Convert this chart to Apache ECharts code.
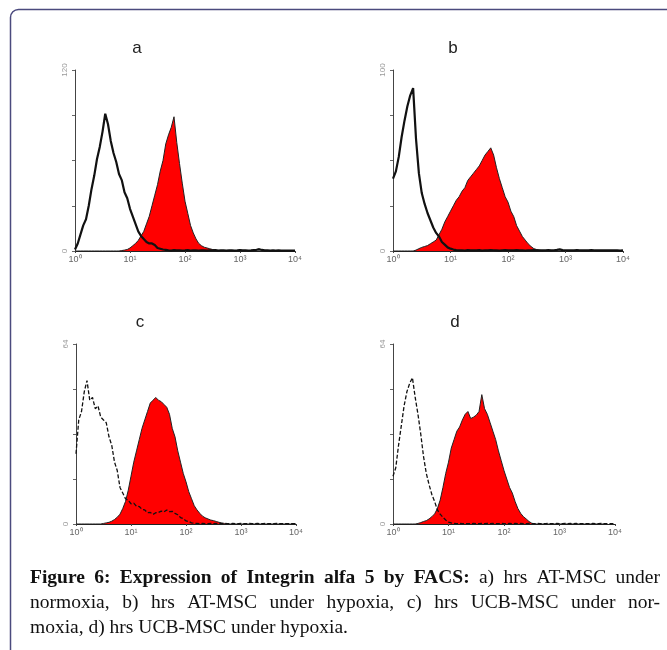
<!DOCTYPE html>
<html>
<head>
<meta charset="utf-8">
<script src="https://cdn.jsdelivr.net/npm/echarts@6/dist/echarts.min.js"></script>
<style>
html,body{margin:0;padding:0;background:#fff;}
#chart{width:667px;height:650px;}
</style>
</head>
<body>
<div id="chart"></div>
<script>
// channel positions in decades (log10 of fluorescence)
const bins = [0,0.05,0.1,0.15,0.2,0.25,0.3,0.35,0.4,0.45,0.5,0.55,0.6,0.65,0.7,0.75,0.8,0.85,0.9,0.95,
1,1.05,1.1,1.15,1.2,1.25,1.3,1.35,1.4,1.45,1.5,1.55,1.6,1.65,1.7,1.75,1.8,1.85,1.9,1.95,
2,2.05,2.1,2.15,2.2,2.25,2.3,2.35,2.4,2.45,2.5,2.55,2.6,2.65,2.7,2.75,2.8,2.85,2.9,2.95,
3,3.05,3.1,3.15,3.2,3.25,3.3,3.35,3.4,3.45,3.5,3.55,3.6,3.65,3.7,3.75,3.8,3.85,3.9,3.95,4];
const xTickLabels = ['10\u2070','10\u00b9','10\u00b2','10\u00b3','10\u2074'];
const panelNames = ['a','b','c','d'];
const yMax = [120,100,64,64];

const aControl = [1,5,11,17,21,30,41,50,61,69,79,91,84,73,65,59,51,47,39,35,28,23,18,13,10,8,6,5,5,4,2,1.5,1,0.8,
0.5,0.3,0.6,0.4,0.5,0.3,0.4,0.6,0.3,0.5,0.4,0.3,0.5,0.4,0.3,0.5,0.4,0.6,0.3,0.4,
0.5,0.3,0.4,0.5,0.3,0.4,0.6,0.4,0.5,0.3,0.4,0.6,0.8,1.2,0.7,0.4,0.5,0.3,0.4,0.3,
0.4,0.3,0.3,0.2,0.3,0.2,0.2];
const aIntegrin = [0,0,0,0,0,0,0,0,0,0,0,0,0,0,0,0,0,
0.3,0.6,1,2,3.5,5,7,10,13,18,23,30,37,44,53,60,71,77,82,89,72,58,45,33,25,17,12,8,5,3.5,2.5,2,1.5,1,0.7,0.4,0.2,
0,0,0,0,0,0,0,0,0,0,0,0,0,0,0,0,0,0,0,0,0,0,0,0,0,0,0];

const bControl = [40,44,52,63,72,80,86,90,62,43,32,26,21,17,13,10,8,5,3.5,2,1.3,0.8,0.5,
0.3,0.4,0.2,0.5,0.3,0.4,0.3,0.5,0.2,0.4,0.3,0.5,0.4,0.3,0.2,0.4,0.5,0.3,0.4,0.3,
0.5,0.3,0.4,0.2,0.4,0.3,0.5,0.3,0.4,0.3,0.4,0.5,0.3,0.4,0.6,0.9,0.5,0.4,0.3,0.4,
0.3,0.5,0.4,0.3,0.4,0.3,0.5,0.4,0.3,0.4,0.3,0.4,0.3,0.4,0.3,0.3,0.2,0.3];
const bIntegrin = [0,0,0,0,0,0,0,0,
0.5,1.3,2,2.5,3,4,5,6,9,12,16,19,22,25,28,30,33,35,39,41,43,45,47,50,53,55,57,53,46,40,35,30,27,22,19,14,11,8,6,4,2.5,1.3,0.8,0.4,0.2,
0,0,0,0,0,0,0,0,0,0,0,0,0,0,0,0,0,0,0,0,0,0,0,0,0,0,0,0];

const cControl = [25,37,40,47,51,44,45,41,42,38,37,36,31,28,22,19,13,11,9,8.4,7.2,7.4,6.3,6.2,5.2,5,4,4.1,3.4,4,4.1,4.6,4.3,5,4.4,4.5,3.8,3.3,2.3,1.9,1.1,0.9,0.4,0.3,
0.2,0.1,0.2,0.1,0.1,0.2,0.1,0.2,0.1,0.1,0.2,0.1,0.1,0.2,0.1,0.1,0.2,0.1,0.1,0.2,
0.1,0.1,0.2,0.1,0.1,0.2,0.1,0.1,0.1,0.2,0.1,0.1,0.1,0.1,0.1,0.1,0.1];
const cIntegrin = [0,0,0,0,0,0,0,0,0,0,
0.2,0.4,0.6,1,1.6,2.4,3.5,5.5,8,12,17,22,26,30,34,37,40,43,44,45,44,43.5,42.5,41.5,39,34,31,26,22,18,15,11.5,9,6.5,5,3.8,2.8,2.2,1.8,1.4,1.2,0.9,0.6,0.4,0.2,
0,0,0,0,0,0,0,0,0,0,0,0,0,0,0,0,0,0,0,0,0,0,0,0,0,0];

const dControl = [17,20,28,35,42,47,50,52,45,39,32,24,18,14,10.5,8,5,3.5,2.4,1.4,0.7,0.4,
0.2,0.1,0.2,0.1,0.2,0.1,0.1,0.2,0.1,0.1,0.2,0.1,0.2,0.1,0.2,0.1,0.1,0.2,0.1,0.1,
0.2,0.1,0.2,0.1,0.2,0.1,0.1,0.2,0.1,0.1,0.2,0.1,0.2,0.1,0.2,0.1,0.1,0.2,0.1,0.1,
0.2,0.1,0.2,0.1,0.2,0.1,0.1,0.2,0.1,0.1,0.2,0.1,0.1,0.2,0.1,0.1,0.1,0.1,0.1];
const dIntegrin = [0,0,0,0,0,0,0,0,0,
0.2,0.5,0.9,1.2,1.8,2.6,3.6,5.5,8.5,13,18,22,27,30,33,34.5,37,39,40,37.5,38,38.7,40,46,41,39,36,33,30,26,22.5,19,16,13,11,8,5.5,3.8,2.6,1.8,0.9,0.3,
0,0,0,0,0,0,0,0,0,0,0,0,0,0,0,0,0,0,0,0,0,0,0,0,0,0];

const controls = [aControl,bControl,cControl,dControl];
const integrins = [aIntegrin,bIntegrin,cIntegrin,dIntegrin];

const captionLines = [
  [{t:'Figure 6: Expression of Integrin alfa 5 by FACS:', b:true},{t:'a) hrs AT-MSC under', b:false}],
  [{t:'normoxia, b) hrs AT-MSC under hypoxia, c) hrs UCB-MSC under nor-', b:false}],
  [{t:'moxia, d) hrs UCB-MSC under hypoxia.', b:false}]
];

// layout
const grids = [
  {left:75, top:70, width:220, height:181},
  {left:393, top:70, width:230, height:181},
  {left:76, top:344, width:220, height:180},
  {left:393, top:344, width:222, height:180}
];
const titlePos = [[137,48],[453,48],[140,322],[455,322]];

function pairs(vals){ return bins.map((b,i)=>[b, vals[i]]); }

const xAxes = [], yAxes = [], series = [];
grids.forEach((g,k)=>{
  xAxes.push({
    gridIndex:k, type:'value', min:0, max:4, interval:1,
    axisLine:{show:true, lineStyle:{color:'#222', width:1}},
    axisTick:{show:true, length:2, lineStyle:{color:'#444'}},
    splitLine:{show:false},
    axisLabel:{formatter:(v)=>xTickLabels[Math.round(v)], fontSize:9, color:'#666', margin:4, fontFamily:'Liberation Sans'}
  });
  yAxes.push({
    gridIndex:k, type:'value', min:0, max:yMax[k], interval:yMax[k]/4,
    axisLine:{show:true, lineStyle:{color:'#444', width:1}},
    axisTick:{show:true, length:3, lineStyle:{color:'#666'}},
    splitLine:{show:false},
    axisLabel:{rotate:90, fontSize:8, color:'#999', margin:6, fontFamily:'Liberation Sans',
      formatter:(v)=> (v===0 || v===yMax[k]) ? String(v) : ''}
  });
  series.push({
    type:'line', xAxisIndex:k, yAxisIndex:k, data:pairs(integrins[k]),
    showSymbol:false, symbol:'none', smooth:false, z:2,
    lineStyle:{color:'#222', width:1},
    areaStyle:{color:'#ff0000', opacity:1},
    silent:true, animation:false
  });
  const dashed = k>=2;
  series.push({
    type:'line', xAxisIndex:k, yAxisIndex:k, data:pairs(controls[k]),
    showSymbol:false, symbol:'none', smooth:false, z:3,
    lineStyle: dashed ? {color:'#111', width:1.3, type:[4,2]} : {color:'#111', width:2.2},
    silent:true, animation:false
  });
});

const graphics = [];
graphics.push({type:'rect', shape:{x:10.5, y:9.5, width:720, height:720, r:8},
  style:{fill:'none', stroke:'#4b4a7e', lineWidth:1.5}, z:0});
panelNames.forEach((n,k)=>{
  graphics.push({type:'text', x:titlePos[k][0], y:titlePos[k][1],
    style:{text:n, fontSize:17, fontFamily:'Liberation Sans', fill:'#222', align:'center', verticalAlign:'middle'}});
});

// caption, justified like the reference
const cv = document.createElement('canvas').getContext('2d');
const capFont = 19.5, capLeft = 30, capRight = 660, capY = [578, 603, 628];
function fontStr(b){ return (b?'bold ':'') + capFont + 'px "Liberation Serif"'; }
captionLines.forEach((line, li)=>{
  const words = [];
  line.forEach(seg=>{ seg.t.split(' ').forEach(w=>words.push({w, b:seg.b})); });
  words.forEach(o=>{ cv.font = fontStr(o.b); o.width = cv.measureText(o.w).width; });
  cv.font = fontStr(false);
  const space = cv.measureText(' ').width;
  const total = words.reduce((s,o)=>s+o.width,0);
  const last = li === captionLines.length-1;
  const gap = last ? space : (capRight-capLeft-total)/(words.length-1);
  let x = capLeft;
  words.forEach(o=>{
    graphics.push({type:'text', x:x, y:capY[li],
      style:{text:o.w, fontSize:capFont, fontFamily:'Liberation Serif', fontWeight:o.b?'bold':'normal',
        fill:'#111', align:'left', verticalAlign:'middle'}});
    x += o.width + gap;
  });
});

const chart = echarts.init(document.getElementById('chart'), null, {renderer:'canvas'});
chart.setOption({
  animation:false,
  backgroundColor:'#fff',
  grid: grids,
  xAxis: xAxes,
  yAxis: yAxes,
  series: series,
  graphic: graphics
});
</script>
</body>
</html>
